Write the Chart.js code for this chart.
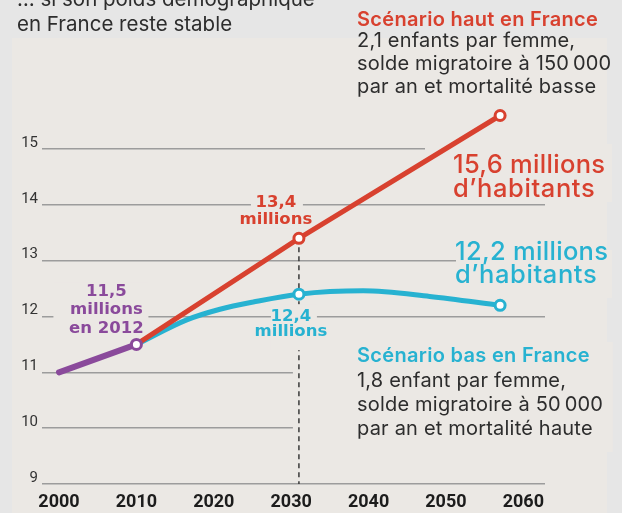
<!DOCTYPE html>
<html><head><meta charset="utf-8">
<script src="https://cdn.jsdelivr.net/npm/chart.js@4/dist/chart.umd.min.js"></script>
<style>
html,body{margin:0;padding:0;background:#e6e6e6;}
#wrap{position:relative;width:622px;height:513px;}
</style></head><body>
<div id="wrap"><canvas id="c" width="622" height="513"></canvas></div>
<script>
// ---- data ----
const tickYears = [2000, 2010, 2020, 2030, 2040, 2050, 2060];
const yTicks = [9, 10, 11, 12, 13, 14, 15];
const pastYears = [2000, 2010];
const pastValues = [11.0, 11.5];
const highYears = [2010, 2031, 2057];
const highValues = [11.5, 13.4, 15.6];
const lowYears = [2010, 2016.5, 2020.8, 2025.1, 2031, 2039.3, 2047.9, 2057];
const lowValues = [11.5, 11.94, 12.13, 12.26, 12.4, 12.46, 12.36, 12.2];
const highMarks = [0, 1, 1];
const lowMarks = [0, 0, 0, 0, 1, 0, 0, 1];
const pastMarks = [0, 1];

const RED = '#d8412f', BLUE = '#27b2d1', PURPLE = '#8a4a9b', INK = '#2d2d2d';
const PANEL = '#ebe8e4', OUTER = '#e6e6e6';

function pts(xs, ys){ return xs.map((x,i)=>({x:x, y:ys[i]})); }

function txt(ctx, s, x, y, font, color, align, spacing){
  ctx.font = font; ctx.fillStyle = color; ctx.textAlign = align || 'left';
  ctx.textBaseline = 'alphabetic';
  if ('letterSpacing' in ctx) ctx.letterSpacing = (spacing || 0) + 'px';
  ctx.fillText(s, x, y);
  if ('letterSpacing' in ctx) ctx.letterSpacing = '0px';
}

const deco = {
  id: 'deco',
  beforeDraw(chart){
    const ctx = chart.ctx; ctx.save();
    ctx.fillStyle = OUTER; ctx.fillRect(0, 0, chart.width, chart.height);
    ctx.fillStyle = PANEL; ctx.fillRect(12, 38, 595, chart.height - 38);
    ctx.restore();
  },
  beforeDatasetsDraw(chart){
    const ctx = chart.ctx, xs = chart.scales.x, ys = chart.scales.y;
    const pP = {x: xs.getPixelForValue(pastYears[1]), y: ys.getPixelForValue(pastValues[1])};
    const rP = {x: xs.getPixelForValue(highYears[1]), y: ys.getPixelForValue(highValues[1])};
    const bP = {x: xs.getPixelForValue(lowYears[4]), y: ys.getPixelForValue(lowValues[4])};
    const bottom = chart.chartArea.bottom;
    ctx.save();
    ctx.fillStyle = PANEL;
    ctx.fillRect(pP.x - 83, pP.y - 62, 95, 56);           // 11,5 millions en 2012
    ctx.fillRect(rP.x - 48, rP.y - 46, 52, 36);           // 13,4 millions
    ctx.fillRect(425, 144, 187, 58);                      // 15,6 millions
    ctx.fillRect(456, 250, 156, 48);                      // 12,2 millions
    ctx.fillRect(bP.x - 6, 342, 320, 110);                // scénario bas
    ctx.strokeStyle = '#3a3a3a'; ctx.lineWidth = 1.5; ctx.setLineDash([5, 4]);
    ctx.beginPath(); ctx.moveTo(rP.x, rP.y); ctx.lineTo(rP.x, bottom); ctx.stroke();
    ctx.setLineDash([]);
    ctx.fillStyle = PANEL;
    ctx.fillRect(bP.x - 28, bP.y + 10, 46, 46);           // 12,4 millions
    ctx.restore();
  },
  afterDatasetsDraw(chart){
    const ctx = chart.ctx, xs = chart.scales.x, ys = chart.scales.y;
    const pP = {x: xs.getPixelForValue(pastYears[1]), y: ys.getPixelForValue(pastValues[1])};
    const rP = {x: xs.getPixelForValue(highYears[1]), y: ys.getPixelForValue(highValues[1])};
    const bP = {x: xs.getPixelForValue(lowYears[4]), y: ys.getPixelForValue(lowValues[4])};
    ctx.save();
    const hf = '400 20.5px Inter';
    txt(ctx, '… si son poids démographique', 17, 6, hf, INK);
    txt(ctx, 'en France reste stable', 17, 31, hf, INK);
    const tf = '600 20px Inter', bf = '400 20px Inter';
    txt(ctx, 'Scénario haut en France', 357, 26, tf, RED, 'left', 0.3);
    txt(ctx, '2,1 enfants par femme,', 357, 47, bf, INK, 'left', 0.2);
    txt(ctx, 'solde migratoire à 150\u2009000', 357, 70, bf, INK, 'left', 0.2);
    txt(ctx, 'par an et mortalité basse', 357, 93, bf, INK, 'left', 0.2);
    txt(ctx, 'Scénario bas en France', 357, 362, tf, BLUE, 'left', 0.3);
    txt(ctx, '1,8 enfant par femme,', 357, 387, bf, INK, 'left', 0.2);
    txt(ctx, 'solde migratoire à 50\u2009000', 357, 411, bf, INK, 'left', 0.2);
    txt(ctx, 'par an et mortalité haute', 357, 435, bf, INK, 'left', 0.2);
    const gf = '500 25.5px Inter';
    txt(ctx, '15,6 millions', 453, 173, gf, RED, 'left', 0.3);
    txt(ctx, 'd\u2019habitants', 453, 197, gf, RED, 'left', 0.6);
    txt(ctx, '12,2 millions', 455, 260, gf, BLUE, 'left', 0.3);
    txt(ctx, 'd\u2019habitants', 455, 283, gf, BLUE, 'left', 0.6);
    const vf = 'bold 16.5px "DejaVu Sans"';
    txt(ctx, '13,4', rP.x - 23, rP.y - 31, vf, RED, 'center');
    txt(ctx, 'millions', rP.x - 23, rP.y - 14, vf, RED, 'center');
    txt(ctx, '12,4', bP.x - 8, bP.y + 27, vf, BLUE, 'center');
    txt(ctx, 'millions', bP.x - 8, bP.y + 42, vf, BLUE, 'center');
    txt(ctx, '11,5', pP.x - 30, pP.y - 48, vf, PURPLE, 'center');
    txt(ctx, 'millions', pP.x - 30, pP.y - 30, vf, PURPLE, 'center');
    txt(ctx, 'en 2012', pP.x - 30, pP.y - 11, vf, PURPLE, 'center');
    ctx.restore();
  }
};

new Chart(document.getElementById('c'), {
  type: 'line',
  data: {
    datasets: [
      { data: pts(pastYears, pastValues), borderColor: PURPLE, borderWidth: 6, tension: 0,
        pointRadius: pastMarks.map(m => m ? 5 : 0), pointBackgroundColor: '#fff',
        pointBorderColor: PURPLE, pointBorderWidth: 3, order: 0, borderCapStyle: 'round' },
      { data: pts(highYears, highValues), borderColor: RED, borderWidth: 5, tension: 0,
        pointRadius: highMarks.map(m => m ? 5 : 0), pointBackgroundColor: '#fff',
        pointBorderColor: RED, pointBorderWidth: 3, order: 1 },
      { data: pts(lowYears, lowValues), borderColor: BLUE, borderWidth: 5, cubicInterpolationMode: 'monotone',
        pointRadius: lowMarks.map(m => m ? 5 : 0), pointBackgroundColor: '#fff',
        pointBorderColor: BLUE, pointBorderWidth: 3, order: 2 }
    ]
  },
  options: {
    responsive: false, animation: false, devicePixelRatio: 1,
    layout: { padding: { left: 0, right: 77, top: 82, bottom: 0 } },
    plugins: { legend: { display: false }, tooltip: { enabled: false }, title: { display: false } },
    scales: {
      x: {
        type: 'linear', min: 1997.8, max: 2062.8,
        afterBuildTicks(s){ s.ticks = tickYears.map(v => ({ value: v })); },
        afterFit(s){ s.height = 29; },
        grid: { display: false, drawTicks: false }, border: { display: false },
        ticks: { padding: 8, color: '#1c1c1c', font: { family: 'Roboto', weight: 'bold', size: 18 },
                 callback: v => String(v), maxRotation: 0, autoSkip: false }
      },
      y: {
        min: 9, max: 16.2,
        afterBuildTicks(s){ s.ticks = yTicks.map(v => ({ value: v })); },
        afterFit(s){ s.width = 42; },
        grid: { color: '#9c9c9c', lineWidth: 1.6, drawTicks: false }, border: { display: false },
        ticks: { padding: 4, labelOffset: -6, color: '#333', font: { family: 'Roboto', size: 15 },
                 callback: v => String(v) }
      }
    }
  },
  plugins: [deco]
});
</script>
</body></html>
